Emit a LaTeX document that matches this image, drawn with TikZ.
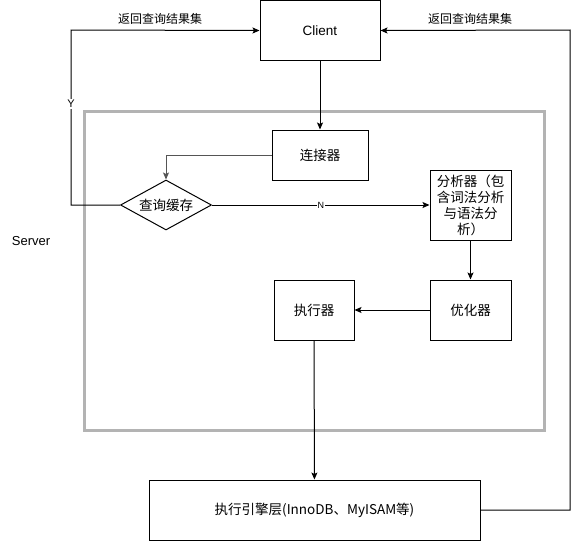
\documentclass[tikz,border=0pt]{standalone}
\usepackage{fontspec}
\setmainfont{Liberation Sans}
\newfontfamily\cjk{Noto Sans CJK SC}
\usetikzlibrary{shapes.geometric,arrows.meta}
\begin{document}
\begin{tikzpicture}[x=1pt,y=-1pt,
  box/.style={draw=black,line width=1pt,fill=white,inner sep=0pt,align=center,font=\fontsize{13.5}{16}\selectfont\cjk},
  conn/.style={line width=1pt,-{Stealth[length=7pt,width=6pt,inset=1.5pt]}},
  lab/.style={font=\fontsize{12}{14}\selectfont\cjk,inner sep=1pt}]
\useasboundingbox (0,0) rectangle (579,541);
% server frame
\draw[draw={rgb,255:red,179;green,179;blue,179},line width=3pt] (84,111) rectangle (544,430);
\node[font=\fontsize{13}{15}\selectfont] (srv) at (31,241) {Server};
% nodes
\node[box,minimum width=120pt,minimum height=60pt,font=\fontsize{13.5}{15}\selectfont] (client) at (320,30.5) {Client};
\node[box,minimum width=96pt,minimum height=50pt] (conn) at (320,155) {连接器};
\node[box,diamond,aspect=1.82,minimum width=91pt,minimum height=50pt] (cache) at (166,205) {查询缓存};
\node[box,minimum width=81pt,minimum height=70pt,text width=80pt] (ana) at (470.5,205) {分析器（包\\含词法分析\\与语法分\\析）};
\node[box,minimum width=81pt,minimum height=60pt] (opt) at (470.5,310) {优化器};
\node[box,minimum width=80pt,minimum height=60pt] (exe) at (314,310) {执行器};
\node[box,minimum width=331pt,minimum height=60pt] (eng) at (314.5,510) {执行引擎层(InnoDB、MyISAM等)};
\coordinate (yl) at (71,205);
\coordinate (yt) at (71,30);
\coordinate (rr) at (570,510);
\coordinate (rt) at (570,30);
% connectors
\draw[conn] (client) -- (conn);
\draw[conn,draw={rgb,255:red,85;green,85;blue,85}] (conn.west) -| (cache.north);
\draw[conn] (cache.west) -- (yl) -- (yt) -- (client.west);
\node[lab,fill=white,font=\fontsize{11}{12}\selectfont] (ylab) at (71,104) {Y};
\draw[conn] (cache.east) -- node[lab,fill=white,font=\fontsize{9}{10}\selectfont] (nlab) {N} (ana.west);
\draw[conn] (ana) -- (opt);
\draw[conn] (opt) -- (exe);
\draw[conn] (exe) -- (eng);
\draw[conn] (eng.east) -- (rr) -- (rt) -- (client.east);
\node[lab] (l1) at (160,19) {返回查询结果集};
\node[lab] (l2) at (470,19) {返回查询结果集};
\end{tikzpicture}
\end{document}
